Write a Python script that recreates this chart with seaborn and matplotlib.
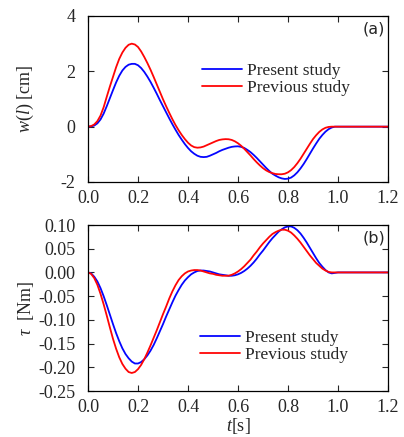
import numpy as np
import pandas as pd
import matplotlib
matplotlib.use("Agg")
import matplotlib.pyplot as plt
import seaborn as sns

# ---- data ----
t = [0.0, 0.0125, 0.025, 0.0375, 0.05, 0.0625, 0.075, 0.0875, 0.1, 0.1125,
     0.125, 0.1375, 0.15, 0.1625, 0.175, 0.1875, 0.2, 0.2125, 0.225, 0.2375,
     0.25, 0.2625, 0.275, 0.2875, 0.3, 0.3125, 0.325, 0.3375, 0.35, 0.3625,
     0.375, 0.3875, 0.4, 0.4125, 0.425, 0.4375, 0.45, 0.4625, 0.475, 0.4875,
     0.5, 0.5125, 0.525, 0.5375, 0.55, 0.5625, 0.575, 0.5875, 0.6, 0.6125,
     0.625, 0.6375, 0.65, 0.6625, 0.675, 0.6875, 0.7, 0.7125, 0.725, 0.7375,
     0.75, 0.7625, 0.775, 0.7875, 0.8, 0.8125, 0.825, 0.8375, 0.85, 0.8625,
     0.875, 0.8875, 0.9, 0.9125, 0.925, 0.9375, 0.95, 0.9625, 0.975, 0.9875,
     1.0, 1.2]

w_present = [0.0, 0.01, 0.04, 0.12, 0.26, 0.47, 0.74, 1.03, 1.32, 1.6,
             1.84, 2.03, 2.16, 2.24, 2.27, 2.27, 2.22, 2.12, 1.98, 1.81,
             1.62, 1.41, 1.19, 0.96, 0.74, 0.52, 0.3, 0.09, -0.11, -0.3,
             -0.47, -0.63, -0.77, -0.89, -0.98, -1.05, -1.09, -1.1, -1.09, -1.05,
             -1.0, -0.95, -0.89, -0.84, -0.8, -0.76, -0.73, -0.715, -0.71, -0.73,
             -0.77, -0.84, -0.92, -1.02, -1.13, -1.25, -1.37, -1.49, -1.6, -1.7,
             -1.77, -1.83, -1.87, -1.89, -1.88, -1.84, -1.76, -1.65, -1.51, -1.35,
             -1.17, -0.98, -0.79, -0.61, -0.44, -0.3, -0.18, -0.09, -0.03, 0.0,
             0.0, 0.0]
w_previous = [0.0, 0.02, 0.08, 0.2, 0.4, 0.7, 1.08, 1.45, 1.8, 2.15,
              2.45, 2.68, 2.85, 2.96, 3.0, 2.97, 2.88, 2.72, 2.52, 2.3,
              2.06, 1.8, 1.53, 1.26, 0.99, 0.74, 0.5, 0.27, 0.06, -0.13,
              -0.3, -0.45, -0.58, -0.68, -0.74, -0.76, -0.75, -0.72, -0.67, -0.62,
              -0.57, -0.52, -0.48, -0.46, -0.45, -0.455, -0.48, -0.53, -0.6, -0.69,
              -0.8, -0.92, -1.04, -1.17, -1.29, -1.4, -1.5, -1.58, -1.64, -1.68,
              -1.71, -1.72, -1.72, -1.7, -1.65, -1.57, -1.46, -1.32, -1.16, -0.98,
              -0.8, -0.62, -0.45, -0.31, -0.19, -0.1, -0.04, -0.01, 0.0, 0.0,
              0.0, 0.0]

tau_present = [0.0, -0.002, -0.009, -0.019, -0.033, -0.05, -0.069, -0.089, -0.109, -0.128,
               -0.145, -0.16, -0.172, -0.181, -0.188, -0.192, -0.192, -0.189, -0.183, -0.175,
               -0.165, -0.153, -0.139, -0.124, -0.109, -0.093, -0.078, -0.063, -0.049, -0.037,
               -0.026, -0.017, -0.01, -0.004, 0.0, 0.003, 0.004, 0.004, 0.003, 0.002,
               0.0, -0.002, -0.004, -0.005, -0.006, -0.007, -0.007, -0.006, -0.004, -0.001,
               0.003, 0.008, 0.014, 0.021, 0.029, 0.038, 0.046, 0.055, 0.064, 0.072,
               0.079, 0.086, 0.091, 0.095, 0.097, 0.097, 0.094, 0.089, 0.082, 0.073,
               0.063, 0.052, 0.041, 0.03, 0.02, 0.012, 0.005, 0.0, -0.002, -0.001,
               0.0, 0.0]
tau_previous = [0.0, -0.003, -0.012, -0.026, -0.045, -0.067, -0.091, -0.116, -0.14, -0.161,
                -0.179, -0.193, -0.203, -0.21, -0.212, -0.21, -0.204, -0.195, -0.183, -0.169,
                -0.154, -0.138, -0.122, -0.105, -0.088, -0.072, -0.055, -0.04, -0.027, -0.016,
                -0.008, -0.002, 0.002, 0.004, 0.005, 0.005, 0.004, 0.002, 0.0, -0.002,
                -0.003, -0.005, -0.006, -0.007, -0.007, -0.007, -0.005, -0.002, 0.002, 0.007,
                0.013, 0.02, 0.027, 0.036, 0.044, 0.053, 0.061, 0.068, 0.075, 0.081,
                0.085, 0.088, 0.09, 0.09, 0.088, 0.084, 0.078, 0.071, 0.063, 0.054,
                0.045, 0.036, 0.028, 0.02, 0.014, 0.008, 0.004, 0.001, 0.0, 0.0,
                0.0, 0.0]

series_names = ["Present study", "Previous study"]
x_ticks = [0.0, 0.2, 0.4, 0.6, 0.8, 1.0, 1.2]
w_ticks = [-2, 0, 2, 4]
tau_ticks = [-0.25, -0.20, -0.15, -0.10, -0.05, 0.00, 0.05, 0.10]

# ---- style ----
sns.set_style("ticks")
plt.rcParams.update({
    "font.family": ["Liberation Serif", "DejaVu Serif"],
    "font.size": 13,
    "mathtext.fontset": "custom",
    "mathtext.rm": "Liberation Serif",
    "mathtext.it": "Liberation Serif:italic",
    "xtick.direction": "in",
    "ytick.direction": "in",
    "xtick.top": True,
    "ytick.right": True,
    "xtick.major.size": 4,
    "ytick.major.size": 4,
    "xtick.major.width": 0.8,
    "ytick.major.width": 0.8,
    "xtick.major.pad": 6,
    "ytick.major.pad": 9,
    "xtick.labelsize": 13,
    "ytick.labelsize": 13,
    "axes.linewidth": 0.9,
    "axes.edgecolor": "black",
})

n = len(t)
df_w = pd.DataFrame({"t": t * 2, "v": w_present + w_previous,
                     "s": [series_names[0]] * n + [series_names[1]] * n})
df_tau = pd.DataFrame({"t": t * 2, "v": tau_present + tau_previous,
                       "s": [series_names[0]] * n + [series_names[1]] * n})
palette = {series_names[0]: "#0505ff", series_names[1]: "#ff0505"}

fig = plt.figure(figsize=(4.04, 4.37), dpi=100)
ax1 = fig.add_axes([88 / 404, 1 - 182 / 437, 300 / 404, 166 / 437])
ax2 = fig.add_axes([88 / 404, 1 - 391 / 437, 300 / 404, 166 / 437])

for ax, df, ticks, ylim, lab, legloc in [
    (ax1, df_w, w_ticks, (-2, 4), r"$w(l)$ [cm]", (0.38, 0.615)),
    (ax2, df_tau, tau_ticks, (-0.25, 0.10), r"$\tau$  [Nm]", (0.373, 0.268)),
]:
    sns.lineplot(data=df, x="t", y="v", hue="s", palette=palette, ax=ax,
                 linewidth=1.3, legend=True)
    ax.set_xlim(0, 1.2)
    ax.set_ylim(*ylim)
    ax.set_xticks(x_ticks)
    ax.set_yticks(ticks)
    ax.set_ylabel(lab, fontsize=13)
    ax.set_xlabel("")
    ax.legend(loc="center left", bbox_to_anchor=legloc, frameon=False,
              fontsize=12.5, handlelength=2.3, handletextpad=0.3,
              labelspacing=0.05, borderaxespad=0, borderpad=0)
    for sp in ax.spines.values():
        sp.set_visible(True)

ax1.set_xticklabels([f"{v:.1f}" for v in x_ticks])
ax1.set_yticklabels([str(v) for v in w_ticks])
ax2.set_xticklabels([f"{v:.1f}" for v in x_ticks])
ax2.set_yticklabels([f"{v:.2f}" for v in tau_ticks])
ax2.set_xlabel(r"$t$[s]", fontsize=13, labelpad=0)
ax1.yaxis.set_label_coords(-0.175, 0.5)
ax2.yaxis.set_label_coords(-0.175, 0.5)

ax1.text(0.99, 0.92, "(a)", transform=ax1.transAxes, ha="right", va="center",
         family="DejaVu Sans", fontsize=11.5)
ax2.text(0.99, 0.92, "(b)", transform=ax2.transAxes, ha="right", va="center",
         family="DejaVu Sans", fontsize=11.5)

fig.savefig("out.png", dpi=100)
